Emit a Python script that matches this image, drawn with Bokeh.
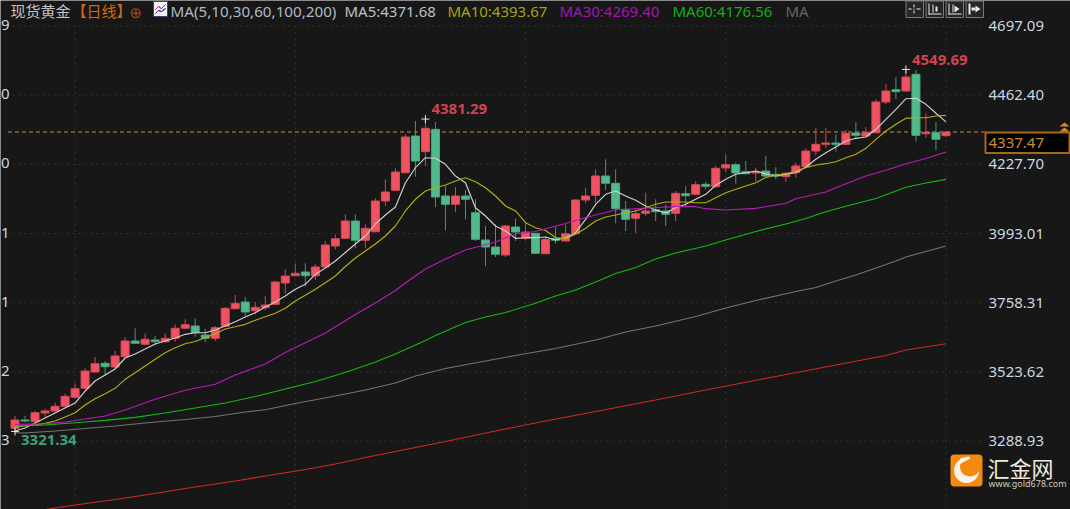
# spot gold daily candles with moving averages, dark trading terminal look

import numpy as np
from bokeh.core.properties import value
from bokeh.embed import file_html
from bokeh.models import BoxAnnotation, ColumnDataSource, FixedTicker, Label, PolyAnnotation, Range1d
from bokeh.plotting import figure
from bokeh.resources import INLINE

W, H = 1070, 509

# candles, one value per trading day
opens = [3332.1, 3360.2, 3354.5, 3384.0, 3390.8, 3406.7, 3437.3, 3467.8, 3523.1, 3552.6,
         3540.1, 3575.0, 3628.3, 3617.1, 3631.7, 3625.9, 3637.4, 3671.4, 3679.2, 3648.6,
         3637.4, 3678.2, 3737.9, 3760.6, 3731.1, 3741.3, 3752.8, 3825.1, 3849.8, 3862.4,
         3849.8, 3879.4, 3950.6, 3976.7, 4035.4, 3970.0, 3999.1, 4103.3, 4139.6, 4199.3,
         4323.8, 4270.6, 4346.6, 4120.3, 4092.1, 4120.3, 4063.6, 3971.0, 3947.2, 3920.1,
         4015.1, 3976.7, 3993.7, 3924.5, 3976.7, 3967.6, 3992.3, 4106.7, 4122.6, 4188.1,
         4163.4, 4075.1, 4044.6, 4061.6, 4073.8, 4069.4, 4061.6, 4128.1, 4126.0, 4160.0,
         4151.8, 4215.3, 4226.5, 4202.7, 4198.3, 4205.1, 4193.9, 4185.8, 4199.3, 4219.7,
         4272.9, 4295.7, 4300.1, 4295.7, 4334.0, 4323.8, 4335.0, 4439.2, 4480.9, 4476.5,
         4533.2, 4331.6, 4335.0, 4324.9]
highs = [3373.8, 3373.8, 3390.8, 3398.6, 3418.9, 3449.5, 3484.8, 3535.7, 3574.0, 3560.4,
         3594.3, 3641.9, 3671.4, 3654.4, 3645.2, 3654.4, 3684.9, 3701.9, 3705.3, 3670.0,
         3679.2, 3743.6, 3784.4, 3777.6, 3760.6, 3781.0, 3831.9, 3871.5, 3891.9, 3891.9,
         3888.5, 3967.6, 3990.3, 4058.2, 4058.2, 4024.2, 4112.5, 4176.9, 4214.3, 4329.6,
         4374.7, 4381.29, 4371.3, 4154.2, 4150.8, 4140.6, 4109.1, 4018.5, 4024.2, 4021.9,
         4044.6, 4029.7, 3994.7, 3982.2, 4016.1, 4024.2, 4109.1, 4148.4, 4210.9, 4244.8,
         4210.9, 4103.3, 4075.1, 4131.5, 4109.1, 4092.1, 4137.2, 4154.2, 4171.2, 4168.8,
         4222.1, 4261.8, 4233.3, 4239.0, 4216.3, 4256.0, 4218.7, 4201.7, 4233.3, 4282.1,
         4350.0, 4350.0, 4329.6, 4344.2, 4371.3, 4354.4, 4448.4, 4499.3, 4524.0, 4549.69,
         4547.8, 4400.9, 4371.3, 4340.0]
lows = [3321.34, 3353.4, 3347.7, 3370.4, 3387.4, 3402.0, 3433.9, 3465.4, 3519.7, 3509.5,
        3533.3, 3571.6, 3619.1, 3613.7, 3613.7, 3622.5, 3625.9, 3671.4, 3642.9, 3624.9,
        3628.3, 3676.8, 3734.5, 3713.1, 3718.9, 3732.4, 3750.4, 3788.8, 3849.8, 3814.9,
        3835.3, 3877.0, 3938.7, 3974.4, 3942.8, 3942.8, 3997.1, 4086.3, 4137.2, 4197.3,
        4185.8, 4222.1, 4082.9, 4003.9, 4066.0, 4041.2, 3967.6, 3882.8, 3913.3, 3913.3,
        3967.6, 3970.0, 3923.5, 3924.5, 3958.4, 3967.6, 3990.3, 4095.5, 4095.5, 4140.6,
        4027.6, 4001.5, 3993.7, 4052.4, 4035.4, 4018.5, 4035.4, 4086.3, 4122.6, 4143.0,
        4148.4, 4201.7, 4162.0, 4193.9, 4171.2, 4185.8, 4176.9, 4167.8, 4182.4, 4216.3,
        4258.4, 4282.1, 4270.6, 4293.3, 4312.6, 4321.5, 4333.0, 4431.4, 4448.4, 4474.2,
        4304.5, 4318.1, 4275.3, 4320.5]
closes = [3360.2, 3356.8, 3385.0, 3390.8, 3406.7, 3440.6, 3466.4, 3526.5, 3551.3, 3541.1,
          3577.4, 3628.3, 3620.5, 3634.1, 3625.9, 3637.4, 3671.4, 3683.6, 3656.4, 3637.4,
          3673.4, 3739.2, 3756.2, 3726.7, 3742.6, 3750.4, 3828.5, 3848.8, 3858.0, 3849.8,
          3879.4, 3954.0, 3975.4, 4035.4, 3970.0, 4010.7, 4103.3, 4133.8, 4201.7, 4320.5,
          4239.0, 4350.0, 4116.9, 4092.1, 4120.3, 4109.1, 3973.4, 3947.2, 3922.5, 4018.5,
          3998.1, 3998.1, 3925.9, 3972.7, 3970.0, 3992.3, 4106.7, 4120.3, 4188.1, 4163.4,
          4077.2, 4041.2, 4060.2, 4069.4, 4067.0, 4058.2, 4129.4, 4121.3, 4158.6, 4153.2,
          4214.3, 4226.5, 4198.3, 4195.9, 4202.7, 4188.1, 4188.1, 4197.3, 4222.1, 4272.9,
          4295.7, 4300.1, 4295.7, 4333.0, 4326.2, 4336.4, 4439.2, 4476.5, 4474.2, 4524.0,
          4326.2, 4336.4, 4312.6, 4337.47]

# short averages: one reading per day
ma5 = [3322.9, 3333.1, 3350.1, 3367.0, 3384.0, 3401.0, 3417.9, 3458.6, 3492.6, 3512.9,
       3533.3, 3570.6, 3584.2, 3601.1, 3618.1, 3628.3, 3638.5, 3651.0, 3656.4, 3656.4,
       3665.6, 3679.2, 3693.8, 3709.7, 3724.3, 3743.6, 3760.6, 3781.0, 3803.7, 3820.6,
       3854.6, 3876.0, 3899.7, 3928.6, 3957.4, 3984.5, 4025.3, 4055.8, 4082.9, 4165.4,
       4216.3, 4250.2, 4248.2, 4227.8, 4188.1, 4165.4, 4080.6, 4052.4, 4018.5, 4001.5,
       3976.7, 3978.8, 3978.8, 3981.2, 3971.0, 3978.8, 3995.7, 4041.2, 4092.1, 4126.0,
       4137.2, 4120.3, 4105.7, 4086.3, 4072.8, 4063.6, 4080.6, 4092.1, 4109.1, 4126.0,
       4156.6, 4176.9, 4193.9, 4199.3, 4205.1, 4194.9, 4188.1, 4193.9, 4199.3, 4218.7,
       4244.8, 4267.2, 4286.5, 4306.9, 4316.0, 4320.5, 4346.6, 4380.5, 4414.4, 4450.4,
       4451.8, 4431.4, 4400.9, 4371.68]
ma10 = [3336.5, 3339.9, 3343.3, 3349.0, 3356.8, 3370.4, 3385.0, 3411.1, 3432.5, 3449.5,
        3467.8, 3498.3, 3520.7, 3543.5, 3566.2, 3588.6, 3605.6, 3619.1, 3626.6, 3639.5,
        3653.1, 3669.0, 3676.8, 3684.9, 3698.5, 3710.7, 3722.3, 3739.2, 3764.0, 3783.3,
        3803.7, 3826.1, 3848.8, 3881.1, 3909.9, 3933.6, 3957.4, 3984.5, 4018.5, 4069.4,
        4109.1, 4137.2, 4148.4, 4157.6, 4171.2, 4182.4, 4168.8, 4148.4, 4120.3, 4086.3,
        4069.4, 4029.7, 4012.7, 4003.2, 3979.5, 3975.4, 3990.3, 4010.7, 4035.4, 4049.0,
        4055.8, 4063.6, 4069.4, 4080.6, 4092.1, 4099.9, 4099.9, 4099.9, 4097.5, 4097.5,
        4114.5, 4131.5, 4143.0, 4154.2, 4165.4, 4183.0, 4190.5, 4195.9, 4205.1, 4216.3,
        4225.4, 4229.9, 4236.6, 4250.2, 4261.8, 4282.1, 4312.6, 4340.8, 4363.5, 4383.9,
        4385.9, 4385.9, 4391.7, 4393.67]

# slower averages: readings at the days where the line bends
ma30_days = [0, 3, 5, 7, 9, 11, 14, 17, 20, 22, 25, 27, 29, 31, 34, 36, 38, 39, 41, 43, 45, 48,
             50, 52, 55, 57, 60, 63, 66, 68, 69, 71, 74, 75, 77, 78, 81, 82, 85, 87, 89, 91, 93]
ma30 = [3345.6, 3347.7, 3353.4, 3363.6, 3373.8, 3394.2, 3430.5, 3461.0, 3481.4, 3512.9, 3550.2,
        3589.3, 3622.5, 3655.4, 3718.2, 3757.2, 3799.6, 3825.1, 3872.6, 3906.5, 3937.0, 3964.2,
        3991.3, 3999.8, 4027.0, 4047.3, 4072.8, 4079.5, 4084.0, 4084.0, 4077.2, 4072.8, 4078.5,
        4084.0, 4095.5, 4111.1, 4133.8, 4148.4, 4188.1, 4207.5, 4229.9, 4247.5, 4269.40]
ma60_days = [0, 3, 7, 9, 12, 15, 18, 21, 24, 27, 30, 32, 34, 36, 38, 41, 42, 45, 47, 49, 52, 54,
             56, 58, 60, 62, 64, 66, 69, 71, 74, 77, 79, 81, 83, 86, 89, 91, 93]
ma60 = [3339.9, 3343.3, 3353.4, 3359.2, 3369.4, 3384.0, 3401.0, 3417.9, 3440.0, 3465.4, 3490.9,
        3511.2, 3533.3, 3557.0, 3584.2, 3630.0, 3647.0, 3691.1, 3709.7, 3725.0, 3756.2, 3781.0,
        3801.3, 3828.5, 3857.3, 3877.7, 3906.5, 3926.9, 3950.6, 3971.0, 3999.8, 4025.3, 4043.9,
        4067.0, 4085.3, 4111.8, 4149.8, 4164.4, 4176.56]
ma100_days = [0, 1, 4, 7, 10, 14, 17, 20, 23, 25, 28, 32, 35, 38, 40, 43, 47, 50, 54, 58, 61, 64,
              68, 71, 74, 78, 80, 82, 84, 85, 88, 89, 91, 93]
ma100 = [3317.1, 3316.1, 3322.9, 3331.4, 3339.9, 3353.4, 3361.9, 3372.1, 3387.4, 3394.9, 3416.2,
         3441.7, 3462.0, 3485.8, 3509.5, 3535.0, 3560.4, 3579.1, 3602.8, 3631.7, 3658.8, 3679.2,
         3711.4, 3740.2, 3765.7, 3796.2, 3809.8, 3831.9, 3852.2, 3864.1, 3899.7, 3913.3, 3932.0,
         3950.6]
ma200_days = [0, 3, 6, 10, 13, 17, 22, 25, 29, 32, 35, 38, 43, 48, 53, 58, 64, 70, 76, 82, 87, 89, 93]
ma200 = [3056.6, 3056.6, 3071.8, 3090.5, 3105.8, 3127.8, 3153.3, 3170.2, 3192.3, 3210.9, 3233.0,
         3253.4, 3287.3, 3322.9, 3356.8, 3389.1, 3428.1, 3468.8, 3507.8, 3546.8, 3579.1, 3597.7,
         3619.1]

price_ticks = [4697.09, 4462.40, 4227.70, 3993.01, 3758.31, 3523.62, 3288.93]
price_labels = ["4697.09", "4462.40", "4227.70", "3993.01", "3758.31", "3523.62", "3288.93"]
cut_labels = ["9", "0", "0", "1", "1", "2", "3"]  # left axis is cropped off in the original
grid_days = [6, 28, 51, 71, 93]
last_price = 4337.47

# the frame runs the full width, the price axis is pinned at this day position
X0, AXIS_AT, X1 = -1.449, 96.95, 105.44
Y0, Y1 = 3056.6, 4783.6

BG = "#171717"
GRID = "#333333"
UP, UP_EDGE, UP_WICK = "#ef5261", "#d94a57", "#d8434f"
DOWN, DOWN_EDGE, DOWN_WICK = "#50ba8e", "#46a880", "#3a9a74"
TEXT = "#ccd6e0"
ORANGE = "#d08a35"
CJK = "Noto Sans CJK SC"
LATIN = "Noto Sans"

days = list(range(len(opens)))
up = [c >= o for o, c in zip(opens, closes)]
source = ColumnDataSource(dict(
    day=days, open=opens, high=highs, low=lows, close=closes,
    fill=[UP if u else DOWN for u in up],
    edge=[UP_EDGE if u else DOWN_EDGE for u in up],
    wick=[UP_WICK if u else DOWN_WICK for u in up],
))

p = figure(
    width=W, height=H,
    x_range=Range1d(X0, X1), y_range=Range1d(Y0, Y1),
    x_axis_location=None, y_axis_location="right",
    min_border=0,
    background_fill_color=BG, border_fill_color=BG,
    toolbar_location=None, tools="", output_backend="svg",
)
p.outline_line_color = None
p.grid.visible = False

p.yaxis.fixed_location = AXIS_AT
p.yaxis.ticker = FixedTicker(ticks=price_ticks)
p.yaxis.major_label_overrides = dict(zip(price_ticks, price_labels))
p.yaxis.axis_line_color = None
p.yaxis.major_tick_line_color = None
p.yaxis.minor_tick_line_color = None
p.yaxis.major_tick_out = 0
p.yaxis.major_label_standoff = 3
p.yaxis.major_label_text_color = TEXT
p.yaxis.major_label_text_font = LATIN
p.yaxis.major_label_text_font_size = "15px"

# dotted grid stops at the axis
p.segment(x0=[X0] * len(price_ticks), x1=[AXIS_AT - 0.2] * len(price_ticks), y0=price_ticks, y1=price_ticks,
          line_color=GRID, line_dash="2 4", line_width=1)
p.segment(x0=grid_days, x1=grid_days, y0=[price_ticks[0]] * len(grid_days), y1=[Y0] * len(grid_days),
          line_color=GRID, line_dash="2 4", line_width=1)

# price line sits under the candles
p.segment(x0=[-0.7], x1=[AXIS_AT], y0=[last_price], y1=[last_price],
          line_color=ORANGE, line_dash="4 3", line_width=1)

p.segment("day", "high", "day", "low", source=source, line_color="wick", line_width=1)
p.vbar("day", 0.8, "open", "close", source=source, fill_color="fill", line_color="edge", line_width=1)

p.line(days, ma5, line_color="#d0d0d0", line_width=1.15)
p.line(days, ma10, line_color="#b4ae14", line_width=1.15)
p.line(ma30_days, ma30, line_color="#b81cb8", line_width=1.15)
p.line(ma60_days, ma60, line_color="#14b814", line_width=1.15)
p.line(ma100_days, ma100, line_color="#747474", line_width=1.15)
p.line(ma200_days, ma200, line_color="#cc2a2a", line_width=1.15)

# highs and low get a white cross and their value
peak_days = [89, 41, 0]
peak_vals = [highs[89], highs[41], lows[0]]
p.scatter(peak_days, peak_vals, marker="cross", size=8, line_color="#e8e8e8", line_width=1)
p.text(peak_days, peak_vals, text=["%.2f" % v for v in peak_vals],
       x_offset=[6, 6, 6], y_offset=[-9.5, -10, 9],
       text_color=["#cf4450", "#cf4450", "#3fa07a"], text_font=value(LATIN), text_font_style="bold",
       text_font_size="15px", text_align="left", text_baseline="middle")

p.text([X0] * len(cut_labels), price_ticks, text=cut_labels, text_color=TEXT, text_font=value(LATIN),
       text_font_size="15px", text_align="left", text_baseline="middle", x_offset=0.5, y_offset=-1)


def label(text, x, y, color, size, font=LATIN, style="normal"):
    p.add_layout(Label(x=x, y=H - y, x_units="screen", y_units="screen", text=text, text_color=color,
                       text_font=font, text_font_size=size, text_font_style=style, text_baseline="middle"))


def box(left, top, right, bottom, fill, line=None, width=1, radius=0):
    p.add_layout(BoxAnnotation(left=left, right=right, top=H - top, bottom=H - bottom,
                               left_units="screen", right_units="screen", top_units="screen", bottom_units="screen",
                               fill_color=fill, fill_alpha=1, line_color=line, line_alpha=1 if line else 0,
                               line_width=width, border_radius=radius))


def poly(xs, ys, fill=None, line=None):
    p.add_layout(PolyAnnotation(xs=xs, ys=[H - y for y in ys], xs_units="screen", ys_units="screen",
                                fill_color=fill or BG, fill_alpha=1 if fill else 0,
                                line_color=line, line_alpha=1 if line else 0, line_width=1))


def disc(cx, cy, r, fill):
    t = np.linspace(0, 2 * np.pi, 40)
    poly(list(cx + r * np.cos(t)), list(cy + r * np.sin(t)), fill=fill)


# header row
label("现货黄金", 10, 10, "#c4c4c4", "15px", CJK)
label("【日线】", 71, 10, "#d5670f", "15px", CJK)
label("⊕", 129, 12, "#a04e0a", "15px", "DejaVu Sans")
box(153, 1, 167, 16, "#f4f4ff", "#3b4468")
poly([155, 158, 161, 165, 165, 161, 158, 155], [9, 6, 8, 4, 4, 8, 6, 9], line="#e02020")
poly([155, 158, 161, 165, 165, 161, 158, 155], [13, 10, 11, 8, 8, 11, 10, 13], line="#2030d0")
label("MA(5,10,30,60,100,200)", 170, 10, "#aebac6", "15.2px")
label("MA5:4371.68", 344, 10, "#b9c2c9", "15px")
label("MA10:4393.67", 447, 10, "#a6a410", "15px")
label("MA30:4269.40", 559, 10, "#a414b4", "15px")
label("MA60:4176.56", 672, 10, "#14ad14", "15px")
label("MA", 785, 10, "#666666", "15px")

# little tool buttons, top right
for left in [905, 925, 945, 965]:
    box(left + 0.5, 0.5, left + 18, 17, "#262626", "#7a7a7a")
for b in [(913, 4, 914, 7), (913, 10, 914, 13), (908, 8, 911, 9), (916, 8, 920, 9), (913, 8, 914, 9)]:
    box(b[0], b[1], b[2], b[3], "#f0f0f0")
for b in [(928, 3, 929, 14), (928, 13, 941, 14), (932, 4, 933, 12), (935, 6, 937, 11), (948, 3, 949, 14),
          (948, 13, 961, 14), (952, 4, 953, 12), (968, 3, 970, 14), (971, 7, 975, 10)]:
    box(b[0], b[1], b[2], b[3], "#e8e8e8")
poly([954, 959, 954], [5, 8.5, 12], fill="#e8e8e8")
poly([975, 980, 975], [5, 8.5, 12], fill="#e8e8e8")

# last price tag on the axis
box(985, 132, 1069, 152.5, "#000000", "#a8671f", 2)
label("4337.47", 988, 142, "#d48a30", "15px")
poly([1059, 1064, 1069], [126, 122, 126], fill="#d48a30")
poly([1059, 1064, 1069], [131, 127, 131], fill="#d48a30")

# watermark
box(950, 454, 982, 486, "#f58a10", radius=4)
disc(966, 470, 12.5, "#f8f4ec")
disc(969.5, 466, 10, "#f58a10")
poly([955, 960, 968, 970, 962], [467, 458, 456, 458, 462], fill="#f8f4ec")
label("汇金网", 987, 466, "#f2e8dc", "22px", CJK)
label("www.gold678.com", 988, 483, "#cfc8be", "9px")

open("out.html", "w").write(file_html(p, INLINE))
